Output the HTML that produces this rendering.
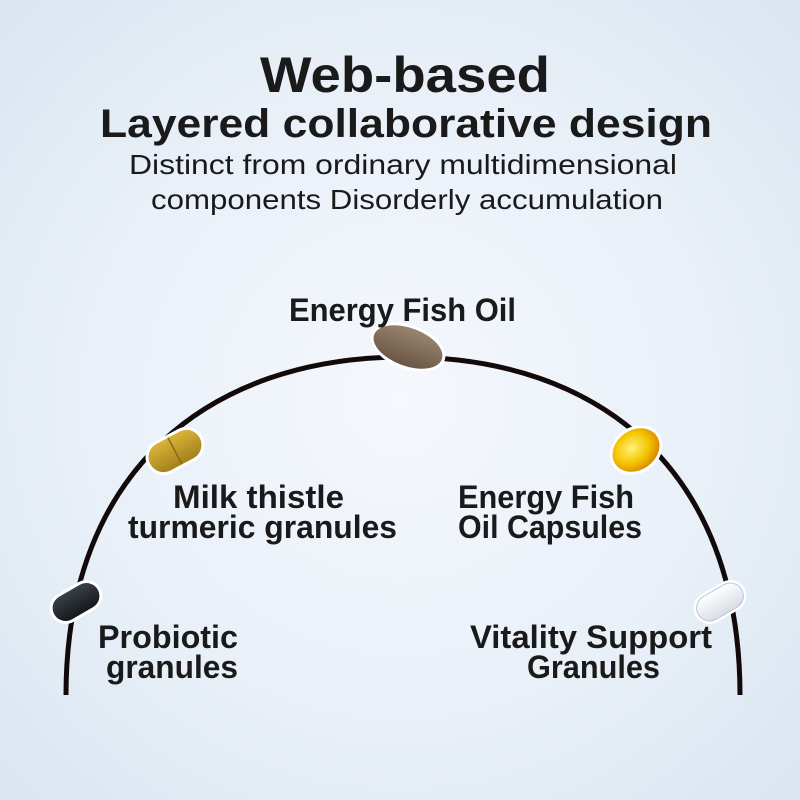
<!DOCTYPE html>
<html><head><meta charset="utf-8"><style>
html,body{margin:0;padding:0;width:800px;height:800px;overflow:hidden}
body{background:radial-gradient(ellipse at 50% 50%,#f5f8fd 0%,#e9f0f8 55%,#dbe5f0 100%)}
svg{display:block}
text{font-family:"Liberation Sans",sans-serif;fill:#1a1a1a}
.b{font-weight:bold}
</style></head><body>
<svg width="800" height="800" viewBox="0 0 800 800">
<defs>
<linearGradient id="br" x1="0" y1="0" x2="0" y2="1"><stop offset="0" stop-color="#9a8470"/><stop offset="1" stop-color="#6a5646"/></linearGradient>
<linearGradient id="gd" x1="0" y1="0" x2="0" y2="1"><stop offset="0" stop-color="#d9b43a"/><stop offset="1" stop-color="#a4801c"/></linearGradient>
<radialGradient id="yl" cx="0.45" cy="0.4" r="0.6"><stop offset="0" stop-color="#fff27a"/><stop offset="0.6" stop-color="#f5c400"/><stop offset="1" stop-color="#d88a00"/></radialGradient>
<linearGradient id="bk" x1="0" y1="0" x2="0" y2="1"><stop offset="0" stop-color="#3a4048"/><stop offset="1" stop-color="#15181c"/></linearGradient>
<linearGradient id="wh" x1="0" y1="0" x2="0" y2="1"><stop offset="0" stop-color="#ffffff"/><stop offset="1" stop-color="#d8dce4"/></linearGradient>
</defs>
<text x="405" y="92" text-anchor="middle" class="b" font-size="50" textLength="290" lengthAdjust="spacingAndGlyphs">Web-based</text>
<text x="406" y="137" text-anchor="middle" class="b" font-size="40" textLength="612" lengthAdjust="spacingAndGlyphs">Layered collaborative design</text>
<text x="403" y="174" text-anchor="middle" font-size="28" textLength="548" lengthAdjust="spacingAndGlyphs">Distinct from ordinary multidimensional</text>
<text x="407" y="209" text-anchor="middle" font-size="28" textLength="512" lengthAdjust="spacingAndGlyphs">components Disorderly accumulation</text>

<path d="M66 695 C 66 470, 210 357, 404 357 C 600 357, 740 470, 740 695" fill="none" stroke="#120a0a" stroke-width="5"/>

<g transform="translate(408,347) rotate(20)"><ellipse rx="39" ry="22" fill="#fff"/><ellipse rx="36" ry="19" fill="url(#br)"/></g>
<g transform="translate(175,451) rotate(-28)"><rect x="-31" y="-18" width="62" height="36" rx="18" fill="#fff"/><rect x="-28" y="-15" width="56" height="30" rx="15" fill="url(#gd)"/><line x1="0" y1="-15" x2="0" y2="15" stroke="#8a6a10" stroke-width="1.5"/></g>
<g transform="translate(636,450) rotate(-35)"><ellipse rx="28" ry="23" fill="#fff"/><ellipse rx="25" ry="20" fill="url(#yl)"/></g>
<g transform="translate(76,602) rotate(-30)"><rect x="-28" y="-16" width="56" height="32" rx="16" fill="#fff"/><rect x="-25" y="-13" width="50" height="26" rx="13" fill="url(#bk)"/></g>
<g transform="translate(720,602) rotate(-30)"><rect x="-28" y="-16" width="56" height="32" rx="16" fill="#fff"/><rect x="-25" y="-13" width="50" height="26" rx="13" fill="url(#wh)" stroke="#b8c4e0" stroke-width="1"/></g>

<g class="b" font-size="32">
<text x="289" y="321" class="b" textLength="227" lengthAdjust="spacingAndGlyphs">Energy Fish Oil</text>
<text x="173" y="508" class="b" textLength="171" lengthAdjust="spacingAndGlyphs">Milk thistle</text>
<text x="128" y="538" class="b" textLength="269" lengthAdjust="spacingAndGlyphs">turmeric granules</text>
<text x="458" y="508" class="b" textLength="176" lengthAdjust="spacingAndGlyphs">Energy Fish</text>
<text x="458" y="538" class="b" textLength="184" lengthAdjust="spacingAndGlyphs">Oil Capsules</text>
<text x="98" y="648" class="b" textLength="140" lengthAdjust="spacingAndGlyphs">Probiotic</text>
<text x="106" y="678" class="b" textLength="132" lengthAdjust="spacingAndGlyphs">granules</text>
<text x="470" y="648" class="b" textLength="242" lengthAdjust="spacingAndGlyphs">Vitality Support</text>
<text x="527" y="678" class="b" textLength="133" lengthAdjust="spacingAndGlyphs">Granules</text>
</g>
</svg>
</body></html>
